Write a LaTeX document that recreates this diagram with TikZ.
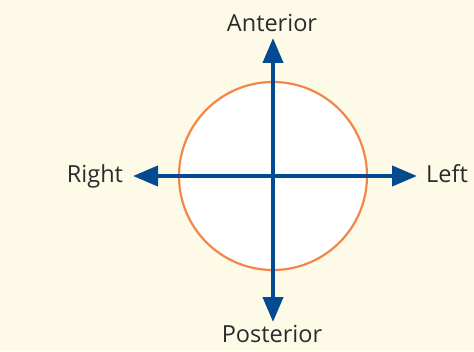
\documentclass[tikz,border=0pt]{standalone}
\usepackage{fontspec}
\setmainfont{Open Sans}
\usetikzlibrary{arrows.meta}
\definecolor{bgc}{HTML}{FEFAE8}
\definecolor{ringc}{HTML}{F2874A}
\definecolor{axisc}{HTML}{034A91}
\definecolor{textc}{HTML}{2B2B2B}
\tikzset{
  lbl/.style={font=\fontsize{23.5}{26}\selectfont, text=textc, anchor=base, inner sep=0pt},
  axis/.style={draw=axisc, line width=4pt, {Triangle[length=25pt,width=20pt]}-{Triangle[length=25pt,width=20pt]}},
}
\begin{document}
\begin{tikzpicture}[x=1pt,y=1pt]
\fill[bgc] (0,0) rectangle (474,351);
\useasboundingbox (0,0) rectangle (474,351);
\node[circle, draw=ringc, line width=2.2pt, fill=white, minimum size=188pt, inner sep=0pt] (c) at (273,175) {};
\coordinate (top) at (273,313);
\coordinate (bot) at (273,29);
\coordinate (lft) at (133,175);
\coordinate (rgt) at (417,175);
\draw[axis] (top) -- (bot);
\draw[axis] (lft) -- (rgt);
\node[lbl] (ant) at (272,319) {Anterior};
\node[lbl] (pos) at (272,9) {Posterior};
\node[lbl] (right) at (95,168) {Right};
\node[lbl] (left) at (447,168) {Left};
\end{tikzpicture}
\end{document}
